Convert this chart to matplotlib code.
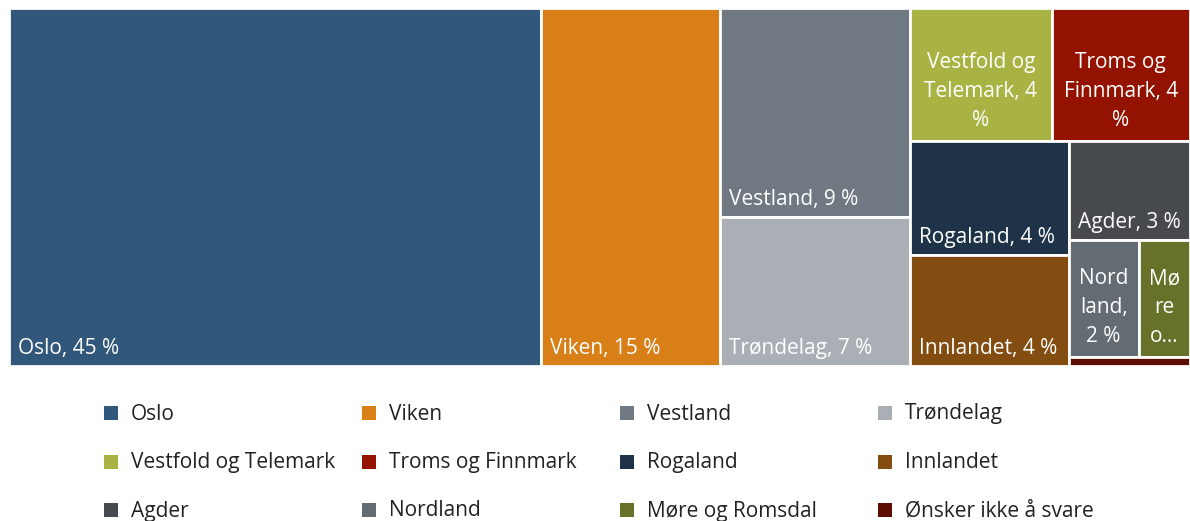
import matplotlib
matplotlib.use("Agg")
import matplotlib.pyplot as plt
from matplotlib.patches import Rectangle

plt.rcParams['font.family'] = ['Open Sans', 'DejaVu Sans']

# share of respondents per region (%)
names = ['Oslo', 'Viken', 'Vestland', 'Trøndelag', 'Vestfold og Telemark',
         'Troms og Finnmark', 'Rogaland', 'Innlandet', 'Agder', 'Nordland',
         'Møre og Romsdal', 'Ønsker ikke å svare']
values = [44.4, 14.9, 9.3, 6.6, 4.4, 4.3, 4.2, 4.1, 2.8, 1.9, 1.4, 0.25]
tile_labels = ['Oslo, 45 %', 'Viken, 15 %', 'Vestland, 9 %', 'Trøndelag, 7 %',
               'Vestfold og\nTelemark, 4\n%', 'Troms og\nFinnmark, 4\n%',
               'Rogaland, 4 %', 'Innlandet, 4 %', 'Agder, 3 %',
               'Nord\nland,\n2 %', 'Mø\nre\no...', '']
colors = ['#31577A', '#D87F18', '#707981', '#A9AFB5', '#A9B343', '#941200',
          '#1E3348', '#834C11', '#464A4E', '#636B73', '#68712A', '#5C0D00']
# how Excel grouped the tiles into strips (indices into the lists above)
strips = [[0], [1], [2, 3], [4, 5], [6, 7], [8], [9, 10], [11]]


def strip_layout(vals, groups, x, y, w, h):
    # each strip runs along the shorter side of what is left
    scale = w * h / sum(vals)
    rects = {}
    for g in groups:
        s = sum(vals[i] for i in g) * scale
        if w >= h:
            cw = s / h
            yy = y
            for i in g:
                rh = vals[i] * scale / cw
                rects[i] = (x, yy, cw, rh)
                yy += rh
            x += cw
            w -= cw
        else:
            rh = s / w
            xx = x
            for i in g:
                rw = vals[i] * scale / rh
                rects[i] = (xx, y, rw, rh)
                xx += rw
            y += rh
            h -= rh
    return [rects[i] for i in range(len(vals))]


W, H = 1181.0, 358.0
fig = plt.figure(figsize=(11.9, 5.21), dpi=100)
ax = fig.add_axes([9 / 1190, 1 - 366 / 521, W / 1190, H / 521])
ax.set_xlim(0, W)
ax.set_ylim(H, 0)
ax.axis('off')

for (x, y, w, h), c, lab in zip(strip_layout(values, strips, 0, 0, W, H), colors, tile_labels):
    ax.add_patch(Rectangle((x, y), w, h, facecolor=c, edgecolor='white', lw=2))
    if not lab:
        continue
    if '\n' in lab:
        ax.text(x + w / 2, y + h - 15, lab, ha='center', va='baseline', color='white',
                fontsize=15, linespacing=1.5)
    else:
        ax.text(x + 9, y + h - 12, lab, ha='left', va='baseline', color='white', fontsize=15)

# legend, 4 columns x 3 rows
lax = fig.add_axes([0, 0, 1, 1 - 380 / 521])
lax.set_xlim(0, 1190)
lax.set_ylim(141, 0)
lax.axis('off')
for i, (n, c) in enumerate(zip(names, colors)):
    cx = 111 + 258 * (i % 4)
    cy = 33 + 48.5 * (i // 4)
    lax.scatter([cx], [cy], marker='s', s=110, color=c, linewidths=0)
    lax.text(cx + 20, cy + 1, n, ha='left', va='center', fontsize=15, color='#222222')

fig.savefig('out.png', dpi=100)
